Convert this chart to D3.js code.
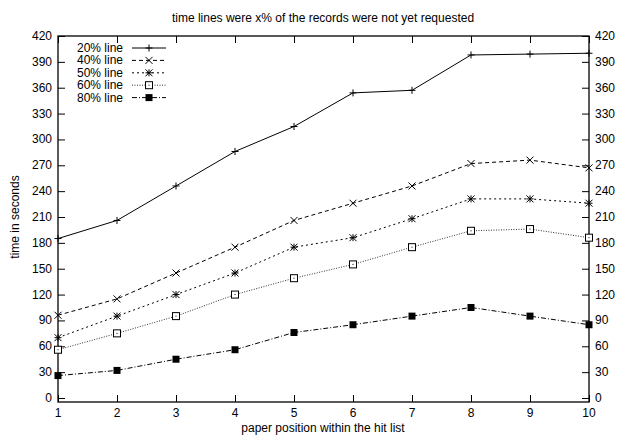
<!DOCTYPE html>
<html>
<head>
<meta charset="utf-8">
<script src="https://cdn.jsdelivr.net/npm/d3@7"></script>
<style>
  html, body { margin: 0; padding: 0; background: #fff; }
  svg text { font-family: "Liberation Sans", Arial, sans-serif; font-size: 12px; fill: #000; }
</style>
</head>
<body>
<svg id="chart" width="618" height="440"></svg>
<script>
// paper position 1..10 in the hit list
const positions = [1, 2, 3, 4, 5, 6, 7, 8, 9, 10];

const line20 = [185, 206, 246, 286, 315, 354, 357, 398, 399, 400];
const line40 = [96, 115, 145, 175, 206, 226, 246, 272, 276, 267];
const line50 = [70, 95, 120, 145, 175, 186, 208, 231, 231, 226];
const line60 = [56, 75, 95, 120, 139, 155, 175, 194, 196, 186];
const line80 = [26, 32, 45, 56, 76, 85, 95, 105, 95, 85];

const seriesNames = ['20% line', '40% line', '50% line', '60% line', '80% line'];
const seriesValues = [line20, line40, line50, line60, line80];

const yTicks = d3.range(0, 421, 30);

(function(){
  // one style per series, gnuplot-ish
  const styles = [
    { dash: null,      stroke: '#000', marker: 'plus' },
    { dash: '4,3',     stroke: '#000', marker: 'cross' },
    { dash: '2,3',     stroke: '#000', marker: 'star' },
    { dash: '1,1.5',   stroke: '#333', marker: 'box' },
    { dash: '5,2,1,2', stroke: '#000', marker: 'fbox' }
  ];

  const svg = d3.select('#chart');
  const pl = 58, pr = 589, pt = 36, pb = 402;

  const x = d3.scaleLinear().domain([1, 10]).range([pl, pr]);
  const y = d3.scaleLinear().domain([0, 420]).range([398, pt]);

  // frame
  svg.append('rect')
    .attr('x', pl).attr('y', pt)
    .attr('width', pr - pl).attr('height', pb - pt)
    .attr('fill', 'none').attr('stroke', '#000').attr('stroke-width', 1.3);

  // left axis, ticks pointing in
  const yl = svg.append('g').attr('transform', 'translate(' + pl + ',0)')
    .call(d3.axisRight(y).tickValues(yTicks).tickSize(7).tickFormat(''));
  yl.select('.domain').remove();
  yTicks.forEach(t => {
    svg.append('text').attr('x', pl - 6).attr('y', y(t) + 4)
      .attr('text-anchor', 'end').text(t);
  });

  // right axis
  const yr = svg.append('g').attr('transform', 'translate(' + pr + ',0)')
    .call(d3.axisLeft(y).tickValues(yTicks).tickSize(7).tickFormat(''));
  yr.select('.domain').remove();
  yTicks.forEach(t => {
    svg.append('text').attr('x', pr + 6).attr('y', y(t) + 4)
      .attr('text-anchor', 'start').text(t);
  });

  // bottom and top ticks
  const xb = svg.append('g').attr('transform', 'translate(0,' + pb + ')')
    .call(d3.axisTop(x).tickValues(positions).tickSize(7).tickFormat(''));
  xb.select('.domain').remove();
  const xt = svg.append('g').attr('transform', 'translate(0,' + pt + ')')
    .call(d3.axisBottom(x).tickValues(positions).tickSize(7).tickFormat(''));
  xt.select('.domain').remove();
  svg.selectAll('.tick line').attr('stroke', '#000');
  positions.forEach(p => {
    svg.append('text').attr('x', x(p)).attr('y', pb + 15)
      .attr('text-anchor', 'middle').text(p);
  });

  // titles
  svg.append('text').attr('x', 323).attr('y', 22).attr('text-anchor', 'middle')
    .text('time lines were x% of the records were not yet requested');
  svg.append('text').attr('x', 323).attr('y', 432).attr('text-anchor', 'middle')
    .text('paper position within the hit list');
  svg.append('text').attr('transform', 'translate(19,217) rotate(-90)')
    .attr('text-anchor', 'middle').text('time in seconds');

  function drawMarker(g, kind, cx, cy) {
    const s = 3.5;
    if (kind === 'plus') {
      g.append('path').attr('d', `M${cx - s},${cy}H${cx + s}M${cx},${cy - s}V${cy + s}`)
        .attr('stroke', '#000').attr('stroke-width', 1);
    } else if (kind === 'cross') {
      g.append('path').attr('d', `M${cx - s},${cy - s}L${cx + s},${cy + s}M${cx - s},${cy + s}L${cx + s},${cy - s}`)
        .attr('stroke', '#000').attr('stroke-width', 1);
    } else if (kind === 'star') {
      g.append('path').attr('d', `M${cx - s},${cy}H${cx + s}M${cx},${cy - s}V${cy + s}M${cx - s},${cy - s}L${cx + s},${cy + s}M${cx - s},${cy + s}L${cx + s},${cy - s}`)
        .attr('stroke', '#000').attr('stroke-width', 1);
    } else if (kind === 'box') {
      g.append('rect').attr('x', cx - s).attr('y', cy - s).attr('width', 2 * s).attr('height', 2 * s)
        .attr('fill', '#fff').attr('stroke', '#000').attr('stroke-width', 1);
      g.append('rect').attr('x', cx - 0.5).attr('y', cy - 0.5).attr('width', 1).attr('height', 1).attr('fill', '#000');
    } else {
      g.append('rect').attr('x', cx - s).attr('y', cy - s).attr('width', 2 * s).attr('height', 2 * s)
        .attr('fill', '#000');
    }
  }

  const line = d3.line().x((d, i) => x(positions[i])).y(d => y(d));

  seriesValues.forEach((vals, k) => {
    const st = styles[k];
    const g = svg.append('g');
    g.append('path').datum(vals).attr('d', line)
      .attr('fill', 'none').attr('stroke', st.stroke).attr('stroke-width', 1)
      .attr('stroke-dasharray', st.dash);
    vals.forEach((v, i) => drawMarker(g, st.marker, x(positions[i]), y(v)));

    // legend row
    const ly = 48 + k * 12.4;
    svg.append('text').attr('x', 123).attr('y', ly + 4).attr('text-anchor', 'end').text(seriesNames[k]);
    g.append('line').attr('x1', 132).attr('x2', 166).attr('y1', ly).attr('y2', ly)
      .attr('stroke', st.stroke).attr('stroke-width', 1).attr('stroke-dasharray', st.dash);
    drawMarker(g, st.marker, 149, ly);
  });
})();
</script>
</body>
</html>
